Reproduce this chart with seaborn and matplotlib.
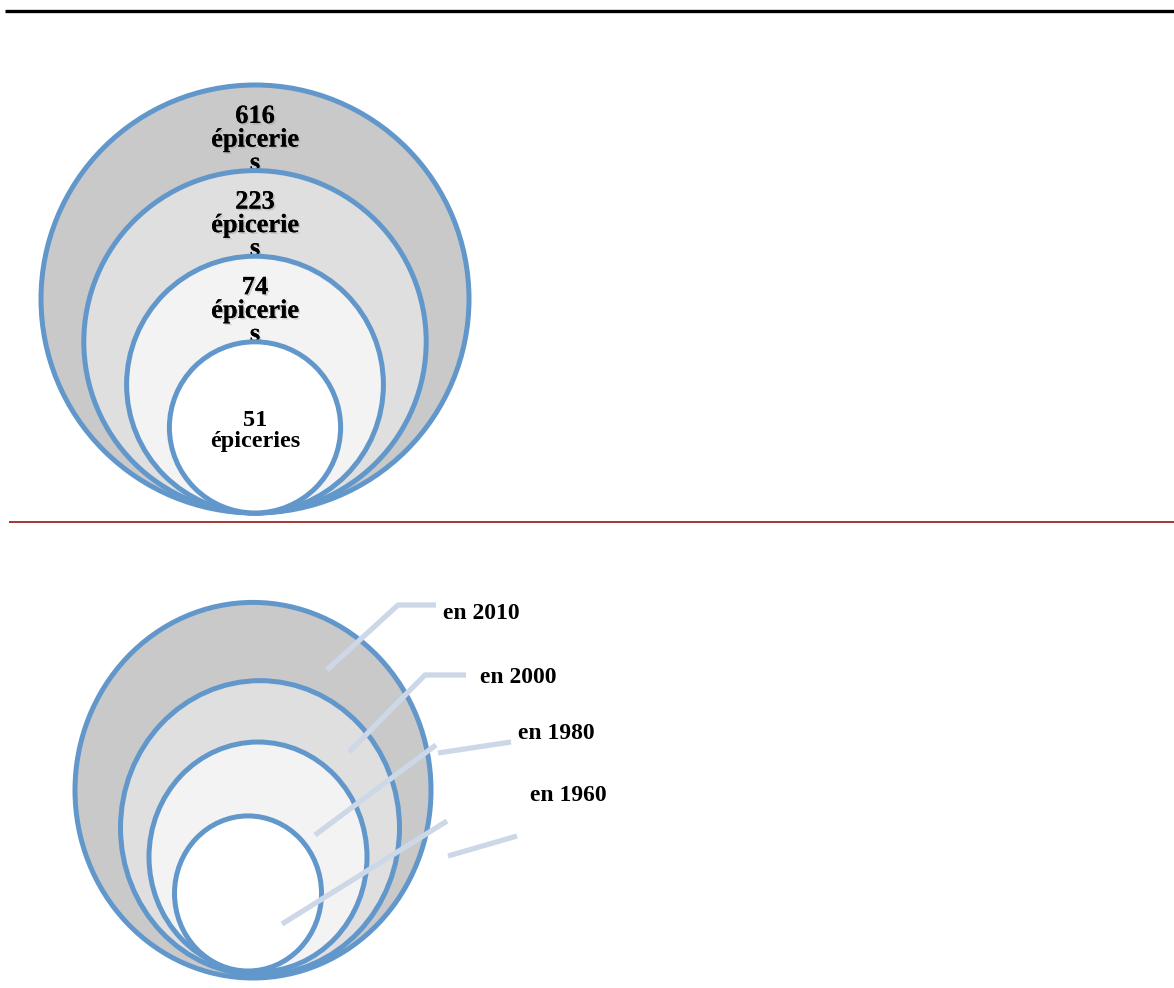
import matplotlib
matplotlib.use("Agg")
import matplotlib.pyplot as plt
import matplotlib.patheffects as pe
from matplotlib.patches import Circle, Ellipse
import seaborn as sns

# ---- data ----
counts = [616, 223, 74, 51]
count_unit = "épiceries"
years = ["en 2010", "en 2000", "en 1980", "en 1960"]

# ---- style ----
sns.set_theme(style="white")
plt.rcParams["font.family"] = ["Liberation Serif", "DejaVu Serif"]

edge_col = "#6297CB"
fills = ["#C9C9C9", "#DFDFDF", "#F3F3F3", "#FFFFFF"]
leader_col = "#CCD8E8"
W, H = 1174, 988

fig = plt.figure(figsize=(W / 100, H / 100), dpi=100)
ax = fig.add_axes([0, 0, 1, 1])
ax.set_xlim(0, W)
ax.set_ylim(H, 0)
ax.axis("off")
sns.despine(ax=ax, left=True, bottom=True)

# rule lines of the page
ax.plot([5, W], [11.5, 11.5], color="black", lw=2.4, solid_capstyle="butt")
ax.plot([9, W], [522, 522], color="#8B0000", lw=1.1, solid_capstyle="butt")

# ---- top diagram: stacked circles, radius by rank ----
unit = 42.8
cx, base = 255, 513
n = len(counts)
shadow = [pe.withSimplePatchShadow(offset=(1.2, -1.2), shadow_rgbFace="#888888", alpha=0.35), pe.Normal()]
line_gap = 23.5
for i, v in enumerate(counts):
    r = unit * (n + 1 - i)
    cy = base - r
    ax.add_patch(Circle((cx, cy), r, facecolor=fills[i], edgecolor=edge_col, lw=3.6, zorder=2 * i + 2))
    if i < n - 1:
        lines = [str(v), count_unit[:-1], count_unit[-1]]
        y0 = cy - r + 38
        for k, t in enumerate(lines):
            ax.text(cx, y0 + k * line_gap, t, ha="center", va="baseline", fontsize=19,
                    fontweight="bold", color="black", zorder=2 * i + 3, path_effects=shadow)
    else:
        lines = [str(v), count_unit]
        for k, t in enumerate(lines):
            ax.text(cx, cy - 1 + k * 21, t, ha="center", va="baseline", fontsize=17.5,
                    fontweight="bold", color="black", zorder=2 * i + 3)

# ---- bottom diagram: stacked ellipses with year labels ----
bcx = [253, 260, 258, 248]
bbase = [978, 975, 972, 971]
widths = [356, 279, 218, 147]
for i in range(len(years)):
    w = widths[i]
    h = w * 1.055
    ax.add_patch(Ellipse((bcx[i], bbase[i] - h / 2), w, h, facecolor=fills[i],
                         edgecolor=edge_col, lw=3.6, zorder=20 + i))

leaders = [
    [[(327, 670), (398, 605), (436, 605)]],
    [[(349, 752), (425, 675), (466, 675)]],
    [[(315, 835), (436, 745)], [(438, 753), (511, 742)]],
    [[(282, 924), (447, 821)], [(448, 856), (517, 836)]],
]
label_pos = [(443, 613), (480, 677), (518, 733), (530, 795)]
for lab, segs, (lx, ly) in zip(years, leaders, label_pos):
    for seg in segs:
        xs, ys = zip(*seg)
        ax.plot(xs, ys, color=leader_col, lw=3.8, solid_capstyle="butt", zorder=40)
    ax.text(lx, ly, lab, ha="left", va="center", fontsize=17, fontweight="bold",
            color="black", zorder=41)

fig.savefig("out.png", dpi=100)
